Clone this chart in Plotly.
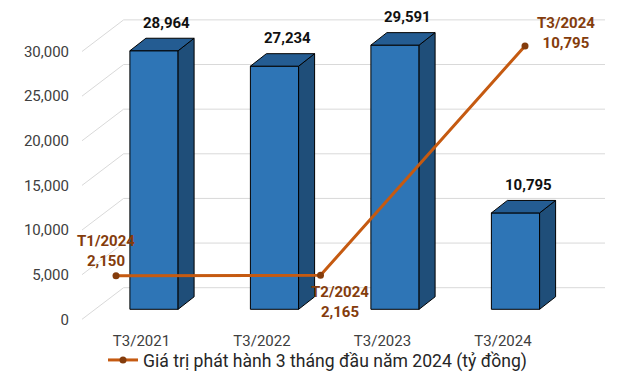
import plotly.graph_objects as go

# ---------------- data ----------------
categories = ["T3/2021", "T3/2022", "T3/2023", "T3/2024"]
bar_values = [28964, 27234, 29591, 10795]
line_labels = ["T1/2024", "T2/2024", "T3/2024"]
line_values = [2150, 2165, 10795]
y_ticks = [0, 5000, 10000, 15000, 20000, 25000, 30000]
legend_name = "Giá trị phát hành 3 tháng đầu năm 2024 (tỷ đồng)"

# ---------------- geometry (pixel layout, page coordinates) ----------------
W, H = 640, 383
OFF = 8                                 # default page body margin
L, R, T, B = 82, 610, 10, 330          # plot area in page pixels
SX = 120.5                              # px per category step
X0PX = 154                              # px of first bar centre
KY = 0.008927                           # px per value unit (primary)
FRONT_ZERO = 319.3                      # px of value 0 on front plane
BAR_ZERO = 309.3                        # px of value 0 on bar plane
BACK_DX, BACK_DY = 41.6, 31.6           # back wall offset in px
BAR_DX, BAR_DY = 16.0, 12.5             # bar depth in px
BAR_W = 0.40
LABEL_SHIFT = 12.5                      # category label shift (px, left)

# line axis mapping
LX0PX, LSX = 116, 204.5
LKY, LZERO = 0.02657, 332.8

x_range = [(L - X0PX) / SX, (R - X0PX) / SX]
y_range = [(FRONT_ZERO - B) / KY, (FRONT_ZERO - T) / KY]
y2_range = [(BAR_ZERO - B) / KY, (BAR_ZERO - T) / KY]
x2_range = [(L - LX0PX) / LSX, (R - LX0PX) / LSX]
y3_range = [(LZERO - B) / LKY, (LZERO - T) / LKY]

front_col = "#2E75B6"
side_col = "#1F4E79"
top_col = "#245C92"
line_col = "#C55A11"
lab_col = "#843C0C"
grid_col = "#D9D9D9"
text_col = "#404040"
FONT = "Roboto"

fig = go.Figure()

# back-wall gridlines with diagonal side-wall lines
gx, gy = [], []
bdx = BACK_DX / SX
bdy = BACK_DY / KY
xr_end = (605 - X0PX) / SX
for t in y_ticks:
    gx += [x_range[0], x_range[0] + bdx, xr_end, None]
    gy += [t, t + bdy, t + bdy, None]
fig.add_trace(go.Scatter(x=gx, y=gy, mode="lines", line=dict(color=grid_col, width=1),
                         showlegend=False, hoverinfo="skip", xaxis="x", yaxis="y"))

# 3D bars
xs = list(range(len(categories)))
fig.add_trace(go.Bar(x=xs, y=bar_values, width=BAR_W, marker=dict(color=front_col, line=dict(color="#000000", width=1)),
                     showlegend=False, hoverinfo="skip", xaxis="x", yaxis="y2"))
ddx = BAR_DX / SX
ddy = BAR_DY / KY
for i, v in zip(xs, bar_values):
    xl, xr = i - BAR_W / 2, i + BAR_W / 2
    fig.add_trace(go.Scatter(x=[xr, xr, xr + ddx, xr + ddx, xr], y=[0, v, v + ddy, ddy, 0],
                             fill="toself", fillcolor=side_col, mode="lines",
                             line=dict(color="#000000", width=1), showlegend=False,
                             hoverinfo="skip", xaxis="x", yaxis="y2"))
    fig.add_trace(go.Scatter(x=[xl, xr, xr + ddx, xl + ddx, xl], y=[v, v, v + ddy, v + ddy, v],
                             fill="toself", fillcolor=top_col, mode="lines",
                             line=dict(color="#000000", width=1), showlegend=False,
                             hoverinfo="skip", xaxis="x", yaxis="y2"))

# line series
fig.add_trace(go.Scatter(x=line_labels, y=line_values, mode="lines+markers", name=legend_name,
                         line=dict(color=line_col, width=3), marker=dict(color=lab_col, size=7),
                         xaxis="x2", yaxis="y3", hoverinfo="skip"))

annotations = []
for i, v in zip(xs, bar_values):
    annotations.append(dict(x=i, y=v, xref="x", yref="y2", text=f"<b>{v:,}</b>", showarrow=False,
                            xshift=12.9, yshift=28, yanchor="middle",
                            font=dict(family=FONT, size=15, color="#111111")))
line_shifts = [(-10.5, 24.7), (19.6, -26.5), (40.8, 13.2)]
for lab, v, (dx, dy) in zip(line_labels, line_values, line_shifts):
    annotations.append(dict(x=lab, y=v, xref="x2", yref="y3", text=f"<b>{lab}<br>{v:,}</b>",
                            showarrow=False, xshift=dx, yshift=dy, yanchor="middle",
                            font=dict(family=FONT, size=15, color=lab_col)))

fig.update_layout(
    width=W, height=H,
    margin=dict(l=L - OFF, r=W - R + OFF, t=T - OFF, b=H - B + OFF, pad=0, autoexpand=False),
    paper_bgcolor="white", plot_bgcolor="white",
    font=dict(family=FONT, size=15, color=text_col),
    showlegend=True,
    legend=dict(orientation="h", xref="container", yref="container",
                x=(103 - OFF) / W, xanchor="left", y=1 - (360 - OFF) / H, yanchor="middle",
                font=dict(family=FONT, size=17.6, color="#262626"),
                bgcolor="rgba(0,0,0,0)"),
    xaxis=dict(range=x_range, showgrid=False, zeroline=False, showline=False, automargin=False,
               tickvals=[i - LABEL_SHIFT / SX for i in xs], ticktext=categories,
               ticks="", tickfont=dict(size=15, color=text_col)),
    yaxis=dict(range=y_range, showgrid=False, zeroline=False, showline=False, automargin=False,
               tickvals=y_ticks, ticktext=[f"{t:,}" for t in y_ticks], ticks="",
               ticklabelstandoff=12, tickfont=dict(size=15, color=text_col)),
    yaxis2=dict(range=y2_range, overlaying="y", visible=False, showgrid=False, zeroline=False),
    xaxis2=dict(range=x2_range, overlaying="x", visible=False, type="category", showgrid=False),
    yaxis3=dict(range=y3_range, overlaying="y", visible=False, showgrid=False, zeroline=False),
    annotations=annotations,
    hovermode=False,
)

fig.write_html("out.html")
